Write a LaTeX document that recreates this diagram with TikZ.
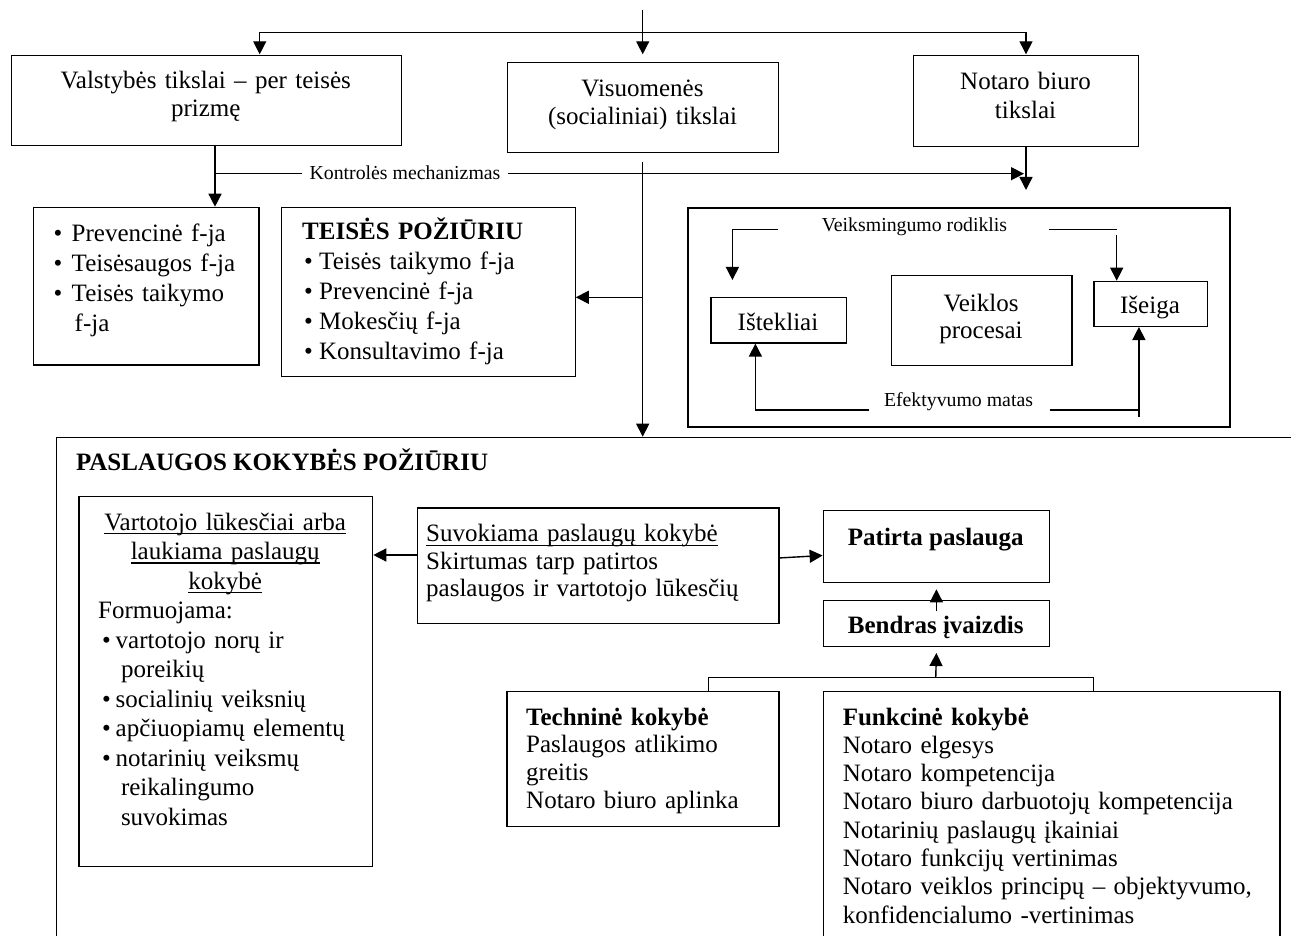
\documentclass[tikz,border=0pt]{standalone}
\usepackage{fontspec}
\setmainfont{Liberation Serif}
\usetikzlibrary{arrows.meta}
\newcommand{\mybul}[1]{\makebox[#1][l]{\textbullet}}
\newcommand{\myul}[1]{\setbox0\hbox{#1}\rlap{\rule[-4pt]{\wd0}{1.2pt}}\box0}
\begin{document}
\begin{tikzpicture}[x=1pt,y=-1pt,
  box/.style={draw, line width=1.3pt, inner sep=0pt, anchor=north west},
  conn/.style={line width=1.4pt},
  arr/.style={conn, -{Triangle[length=13pt,width=13pt]}},
  txt/.style={inner sep=0pt, font=\fontsize{25}{28.3}\selectfont},
  ctxt/.style={txt, anchor=base, align=center},
  ltxt/.style={txt, anchor=base west, align=left},
  small/.style={inner sep=0pt, anchor=base, font=\fontsize{19.8}{23}\selectfont},
]
\useasboundingbox (0,0) rectangle (1291,936);
\clip (0,0) rectangle (1291,936);
\fill[white] (0,0) rectangle (1291,936);

% ---------- boxes ----------
\node[box, minimum width=1260pt, minimum height=520pt] (pas) at (56,436.7) {};
\node[box, minimum width=390.5pt, minimum height=90pt] (val) at (10.5,55) {};
\node[box, minimum width=271pt, minimum height=90pt] (vis) at (507,61.7) {};
\node[box, minimum width=225pt, minimum height=90.7pt] (not) at (913,55) {};
\node[box, minimum width=225.6pt, minimum height=157.6pt] (fnl) at (32.8,206.7) {};
\node[box, minimum width=293.5pt, minimum height=169.3pt] (teis) at (281,206.7) {};
\node[box, line width=1.6pt, minimum width=542pt, minimum height=218.7pt] (proc) at (687.4,207.3) {};
\node[box, minimum width=135.7pt, minimum height=45.6pt] (ist) at (710.3,296.7) {};
\node[box, minimum width=180.7pt, minimum height=90pt] (vpr) at (890.6,275) {};
\node[box, minimum width=113.1pt, minimum height=45pt] (isg) at (1093.4,280.7) {};
\node[box, minimum width=293.7pt, minimum height=369.7pt] (vart) at (78.3,496) {};
\node[box, minimum width=361.5pt, minimum height=115.4pt] (suv) at (416.7,507.3) {};
\node[box, minimum width=226.3pt, minimum height=71.7pt] (pat) at (822.6,510) {};
\node[box, minimum width=226.3pt, minimum height=46pt] (ben) at (822.6,600) {};
\node[box, minimum width=271.9pt, minimum height=135.3pt] (tech) at (506.3,690.7) {};
\node[box, minimum width=456.7pt, minimum height=260pt] (fun) at (822.6,690.7) {};

% ---------- texts ----------
\node[ctxt, text width=380pt, font=\fontsize{25}{28}\selectfont] (tval) at (205.75,88.5) {Valstybės tikslai – per teisės\\prizmę};
\node[ctxt, text width=260pt, font=\fontsize{25}{27.5}\selectfont] (tvis) at (642.5,96.7) {Visuomenės\\(socialiniai) tikslai};
\node[ctxt, text width=215pt, font=\fontsize{25}{29}\selectfont] (tnot) at (1025.5,89.3) {Notaro biuro\\tikslai};
\node[small, inner xsep=7pt] (kont) at (405,179.5) {Kontrolės mechanizmas};

\node[ltxt, text width=200pt, font=\fontsize{25}{30}\selectfont] (tfnl) at (53.5,241.7)
  {\mybul{18pt}Prevencinė f-ja\\\mybul{18pt}Teisėsaugos f-ja\\\mybul{18pt}Teisės taikymo\\\hspace*{21pt}f-ja};
\node[ltxt, text width=270pt, font=\fontsize{25}{30}\selectfont] (tteis) at (302,240)
  {\textbf{TEISĖS POŽIŪRIU}\\\hspace*{2pt}\mybul{15pt}Teisės taikymo f-ja\\\hspace*{2pt}\mybul{15pt}Prevencinė f-ja\\\hspace*{2pt}\mybul{15pt}Mokesčių f-ja\\\hspace*{2pt}\mybul{15pt}Konsultavimo f-ja};

\node[small] (veik) at (914.5,231.5) {Veiksmingumo rodiklis};
\node[small] (efek) at (958.5,406.7) {Efektyvumo matas};
\node[ctxt] (tist) at (778,330) {Ištekliai};
\node[ctxt, text width=170pt, font=\fontsize{25}{27}\selectfont] (tvpr) at (981,311.7) {Veiklos\\procesai};
\node[ctxt] (tisg) at (1150,313.3) {Išeiga};

\node[ltxt] (tpas) at (75.8,470) {\textbf{PASLAUGOS KOKYBĖS POŽIŪRIU}};
\node[ltxt, text width=254pt, font=\fontsize{25}{29.5}\selectfont] (tvart) at (98,530)
  {\makebox[254pt]{\myul{Vartotojo lūkesčiai arba}}\\
   \makebox[254pt]{\myul{laukiama paslaugų}}\\
   \makebox[254pt]{\myul{kokybė}}\\
   Formuojama:\\
   \hspace*{4pt}\mybul{13.5pt}vartotojo norų ir\\
   \hspace*{22.8pt}poreikių\\
   \hspace*{4pt}\mybul{13.5pt}socialinių veiksnių\\
   \hspace*{4pt}\mybul{13.5pt}apčiuopiamų elementų\\
   \hspace*{4pt}\mybul{13.5pt}notarinių veiksmų\\
   \hspace*{22.8pt}reikalingumo\\
   \hspace*{22.8pt}suvokimas};
\node[ltxt, text width=350pt, font=\fontsize{25}{27.5}\selectfont] (tsuv) at (426,541.7)
  {\myul{Suvokiama paslaugų kokybė}\\Skirtumas tarp patirtos\\paslaugos ir vartotojo lūkesčių};
\node[ctxt] (tpat) at (935.75,545) {\textbf{Patirta paslauga}};
\node[ctxt] (tben) at (935.75,633.3) {\textbf{Bendras įvaizdis}};
\node[ltxt, text width=245pt, font=\fontsize{25}{27.8}\selectfont] (ttech) at (526,725)
  {\textbf{Techninė kokybė}\\Paslaugos atlikimo\\greitis\\Notaro biuro aplinka};
\node[ltxt, text width=430pt, font=\fontsize{25}{28.3}\selectfont] (tfun) at (842.6,725)
  {\textbf{Funkcinė kokybė}\\Notaro elgesys\\Notaro kompetencija\\Notaro biuro darbuotojų kompetencija\\Notarinių paslaugų įkainiai\\Notaro funkcijų vertinimas\\Notaro veiklos principų – objektyvumo,\\konfidencialumo -vertinimas};

% ---------- coordinates ----------
\coordinate (top) at (642.7,10);
\coordinate (split) at (642.7,32.7);
\coordinate (visin) at (642.7,54.3);
\coordinate (valin) at (259.7,54.3);
\coordinate (notin) at (1026,54.3);
\coordinate (notout) at (1026,190);
\coordinate (vx) at (215,0);
\coordinate (kl) at (215,173.7);
\coordinate (kr) at (1024,173.7);
\coordinate (mtop) at (642.7,162);
\coordinate (mbr) at (642.7,297.3);
\coordinate (vl) at (777.7,229.5);
\coordinate (vlend) at (732.4,280);
\coordinate (vr) at (1049.3,229.5);
\coordinate (vrc) at (1116.7,229.5);
\coordinate (vrs) at (1116.7,235);
\coordinate (el) at (868.5,410);
\coordinate (elx) at (755.4,410);
\coordinate (er) at (1049.5,410);
\coordinate (erc) at (1138.9,410);
\coordinate (erb) at (1138.9,416.7);
\coordinate (sa) at (0,555);
\coordinate (jn) at (935.75,677.7);
\coordinate (jl) at (708.5,677.7);
\coordinate (jr) at (1093.7,677.7);

% ---------- connectors ----------
\draw[arr] (top) -- (visin);
\draw[arr] (split) -| (valin);
\draw[arr] (split) -| (notin);
\draw[arr] (val.south -| vx) -- (fnl.north -| vx);
\draw[conn] (kl) -- (kl -| kont.west);
\draw[arr] (kont.east |- kl) -- (kr);
\draw[arr] (not.south -| notin) -- (notout);
\draw[arr] (mtop) -- (mtop |- pas.north);
\draw[arr] (mbr) -- (mbr -| teis.east);

\draw[arr] (vl) -| (vlend);
\draw[conn] (vr) -- (vrc);
\draw[arr] (vrs) -- (isg.north -| vrs);
\draw[arr] (el) -- (elx) -- (ist.south -| elx);
\draw[conn] (er) -- (erc);
\draw[arr] (erb) -- (isg.south -| erb);

\draw[arr] (suv.west |- sa) -- (vart.east |- sa);
\draw[arr] ([yshift=7.7pt]suv.east) -- ([yshift=-9pt]pat.west);
\draw[arr] ([yshift=-11pt]ben.north) -- ([yshift=-6.3pt]pat.south);
\draw[arr] (jn) -- ([yshift=-5.7pt]ben.south);
\draw[conn] (tech.north -| jl) -- (jl) -- (jr) -- (fun.north -| jr);
\end{tikzpicture}
\end{document}
